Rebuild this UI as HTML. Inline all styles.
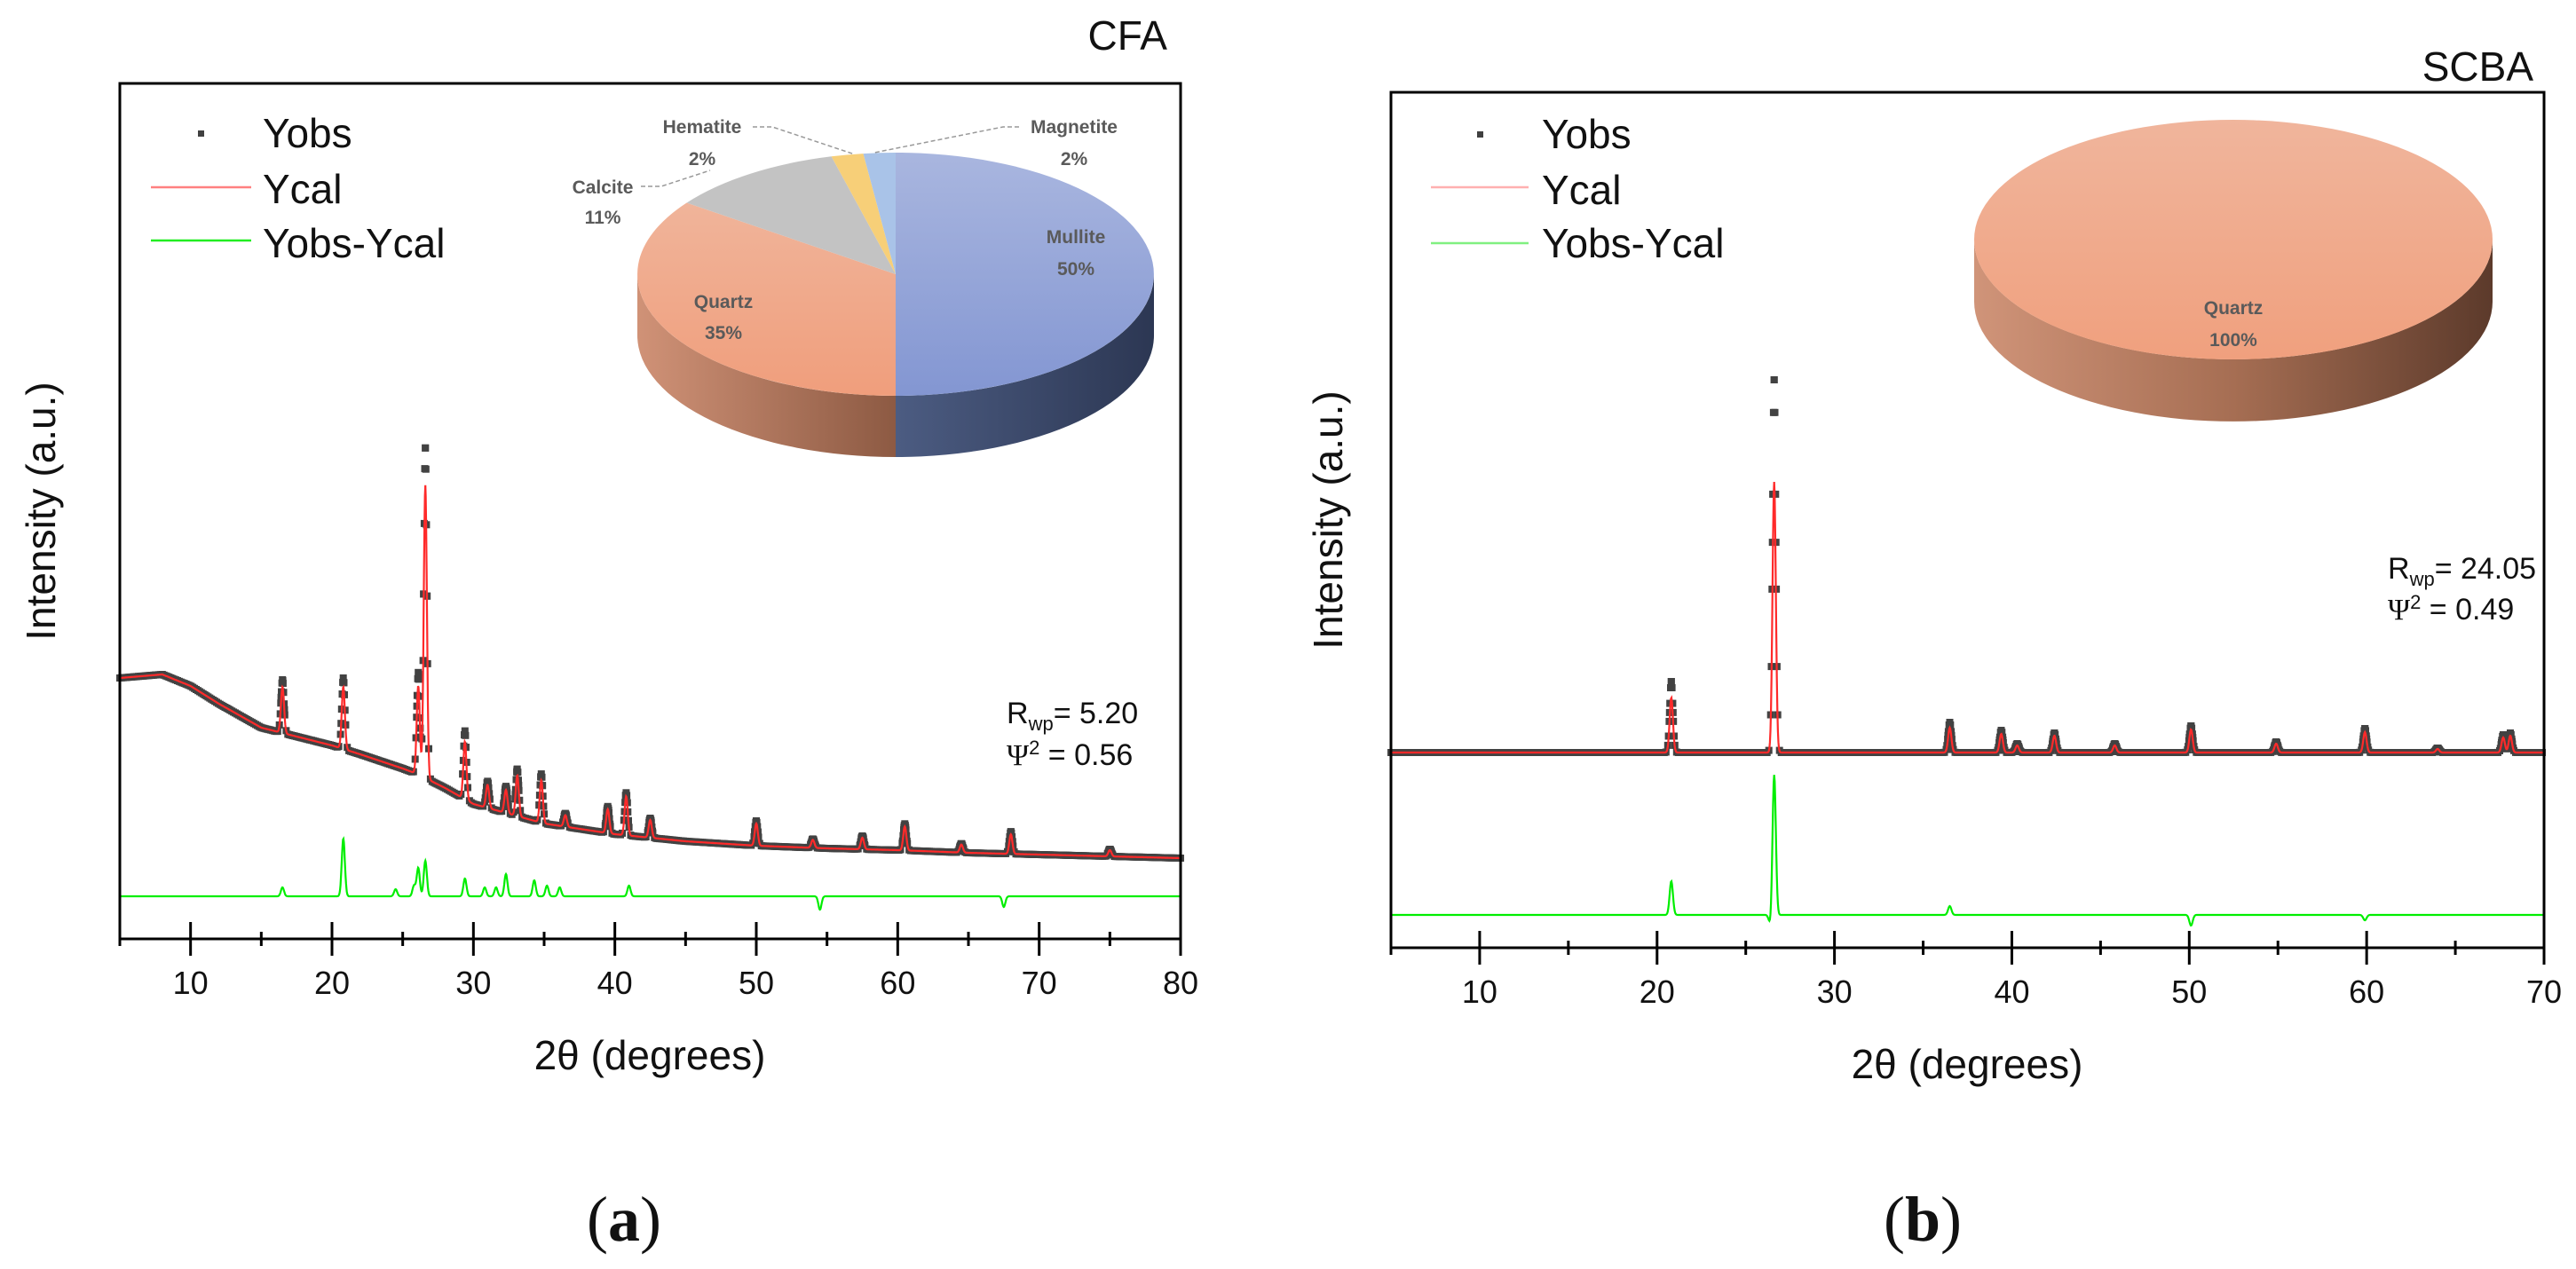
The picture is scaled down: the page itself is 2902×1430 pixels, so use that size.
<!DOCTYPE html>
<html><head><meta charset="utf-8">
<style>
html,body{margin:0;padding:0;background:#fff;}
svg{display:block;font-family:"Liberation Sans",Arial,sans-serif;}
</style></head>
<body>
<svg id="fig" width="2902" height="1430" viewBox="0 0 2902 1430" xmlns="http://www.w3.org/2000/svg">
<defs>
  <linearGradient id="gMulSide" x1="0" x2="1" y1="0" y2="0"><stop offset="0" stop-color="#4c5c82"/><stop offset="1" stop-color="#2c3753"/></linearGradient>
  <linearGradient id="gQtzSide" x1="0" x2="1" y1="0" y2="0"><stop offset="0" stop-color="#d09277"/><stop offset="1" stop-color="#8d5a43"/></linearGradient>
  <linearGradient id="gMulTop" x1="0" x2="0" y1="0" y2="1"><stop offset="0" stop-color="#a9b6df"/><stop offset="1" stop-color="#8396d2"/></linearGradient>
  <linearGradient id="gQtzTop" x1="0" x2="0" y1="0" y2="1"><stop offset="0" stop-color="#f0b49a"/><stop offset="1" stop-color="#f09e7c"/></linearGradient>
  <linearGradient id="gScbaSide" x1="0" x2="1" y1="0" y2="0"><stop offset="0" stop-color="#d09479"/><stop offset="0.5" stop-color="#a66e53"/><stop offset="1" stop-color="#5c3a2b"/></linearGradient>
  <linearGradient id="gScbaTop" x1="0" x2="0" y1="0" y2="1"><stop offset="0" stop-color="#f0b59c"/><stop offset="1" stop-color="#f0a07e"/></linearGradient>
</defs>
<g id="layer"></g>
</svg>
<script>
// ---------- CFA data ----------
const cfaBgX=[5,8,10,12,15,18,20,22,25,26,28,30,35,40,45,50,55,60,65,70,75,80];
const cfaBgV=[294,298,285,265,238,226,218,208,192,186,170,152,130,118,110,105,102,100,97,95,93,91];
const cfaPeakPos=[16.5,20.8,26.1,26.6,29.4,31.0,32.3,33.1,34.8,36.5,39.5,40.8,42.5,50.0,54.0,57.5,60.5,64.5,68.0,75.0];
const cfaPeakObs=[60,80,115,372,77,30,30,53,55,15,30,48,22,28,10,15,30,10,25,8];
const cfaPeakCal=[52,70,100,330,65,26,26,46,48,13,27,44,20,25,9,13,27,9,22,7];
const cfaResBase=48;
const cfaResPos=[16.5,20.8,24.5,25.8,26.1,26.6,29.4,30.8,31.6,32.3,34.3,35.2,36.1,41.0,54.5,67.5];
const cfaResV=[10,65,8,12,32,40,20,10,10,25,18,12,10,12,-15,-12];
const cfaXTicks=[10,20,30,40,50,60,70,80];
// ---------- SCBA data ----------
const scbaBgX=[5,70];
const scbaBgV=[220,220];
const scbaPeakPos=[20.8,26.6,36.5,39.4,40.3,42.4,45.8,50.1,54.9,59.9,64.0,67.7,68.1];
const scbaPeakObs=[80,420,34,25,10,22,10,30,12,27,5,20,22];
const scbaPeakCal=[62,305,28,21,8,19,8,26,10,23,4,17,19];
const scbaResBase=37;
const scbaResPos=[20.8,26.4,26.6,36.5,50.1,59.9];
const scbaResV=[38,-12,159,10,-12,-6];
const scbaXTicks=[10,20,30,40,50,60,70];
// ---------- Pie data ----------
const cfaPieLabels=["Mullite","Quartz","Calcite","Hematite","Magnetite"];
const cfaPieValues=[50,35,11,2,2];
const scbaPieLabels=["Quartz"];
const scbaPieValues=[100];

const NS="http://www.w3.org/2000/svg";
const layer=document.getElementById('layer');
function mk(tag,attrs,parent){const e=document.createElementNS(NS,tag);for(const k in attrs)e.setAttribute(k,attrs[k]);(parent||layer).appendChild(e);return e;}
function txt(s,attrs,parent){const e=mk('text',attrs,parent);e.textContent=s;return e;}

function interp(xs,vs,x){if(x<=xs[0])return vs[0];for(let i=1;i<xs.length;i++){if(x<=xs[i]){const t=(x-xs[i-1])/(xs[i]-xs[i-1]);return vs[i-1]+t*(vs[i]-vs[i-1]);}}return vs[vs.length-1];}
function peakSum(pos,h,x,w){let s=0;for(let i=0;i<pos.length;i++){const d=(x-pos[i])/w;s+=h[i]*Math.exp(-d*d*0.693);}return s;}

function panel(cfg){
  const g=mk('g',{});
  
  
  const xS=v=>cfg.L+(v-cfg.xmin)/(cfg.xmax-cfg.xmin)*(cfg.R-cfg.L);
  const yS=v=>cfg.B-v;
  const xs=[];for(let x=cfg.xmin;x<=cfg.xmax+1e-9;x+=0.03)xs.push(x);
  const prof=(x,h)=>interp(cfg.bgX,cfg.bgV,x)+peakSum(cfg.pos,h,x,cfg.w);
  const dg=mk('g',{fill:'#424242'},g);
  
  
  const dx=[];for(let x=cfg.xmin;x<=cfg.xmax;x+=cfg.dotStep)dx.push(x);
  cfg.pos.forEach(p=>{for(let k=-4;k<=4;k++)dx.push(p+k*0.04);});
  dx.forEach(x=>{if(x<cfg.xmin||x>cfg.xmax)return;const y=yS(prof(x,cfg.obs));
    const r=mk('rect',{x:(xS(x)-4).toFixed(1),y:(y-4).toFixed(1),width:8,height:8},dg);
    
    });
  let d='';xs.forEach((x,i)=>{d+=(i?'L':'M')+xS(x).toFixed(1)+','+yS(prof(x,cfg.cal)).toFixed(1);});
  const cl=mk('path',{d:d,fill:'none',stroke:'#ff2a2a','stroke-width':2.2},g);
  
  
  d='';xs.forEach((x,i)=>{d+=(i?'L':'M')+xS(x).toFixed(1)+','+yS(cfg.resBase+peakSum(cfg.resPos,cfg.resV,x,cfg.w)).toFixed(1);});
  const rl=mk('path',{d:d,fill:'none',stroke:'#00ee00','stroke-width':2.2},g);
  
  
  const fr=mk('rect',{x:cfg.L,y:cfg.T,width:cfg.R-cfg.L,height:cfg.B-cfg.T,fill:'none',stroke:'#000','stroke-width':3},g);
  
  
  for(let v=cfg.xmin;v<=cfg.xmax;v+=5){const major=v%10===0;const t=mk('line',{x1:xS(v),x2:xS(v),y1:cfg.B-(major?19:8),y2:cfg.B+(major?19:8),stroke:'#000','stroke-width':3},g);
    
    }
  cfg.ticks.forEach(v=>{const t=txt(String(v),{x:xS(v),y:cfg.B+62,'font-size':36,'text-anchor':'middle',fill:'#111'},g);
    
    });
  return g;
}

panel({name:'cfa',L:135,R:1330,T:94,B:1058,xmin:5,xmax:80,bgX:cfaBgX,bgV:cfaBgV,pos:cfaPeakPos,obs:cfaPeakObs,cal:cfaPeakCal,resBase:cfaResBase,resPos:cfaResPos,resV:cfaResV,w:0.13,dotStep:0.12,ticks:cfaXTicks});
panel({name:'scba',L:1567,R:2866,T:104,B:1068,xmin:5,xmax:70,bgX:scbaBgX,bgV:scbaBgV,pos:scbaPeakPos,obs:scbaPeakObs,cal:scbaPeakCal,resBase:scbaResBase,resPos:scbaResPos,resV:scbaResV,w:0.11,dotStep:0.1,ticks:scbaXTicks});

function pie3d(name,cx,cy,rx,ry,depth,values,labels,topFills,sideFills){
  const g=mk('g',{});
  
  
  const tot=values.reduce((a,b)=>a+b,0);
  let a=-Math.PI/2;const segs=[];
  values.forEach((v,i)=>{const a2=a+v/tot*2*Math.PI;segs.push([a,a2]);a=a2;});
  const P=(t,dy)=>[(cx+rx*Math.cos(t)).toFixed(1),(cy+ry*Math.sin(t)+(dy||0)).toFixed(1)];
  segs.forEach((s,i)=>{
    for(const off of [0,2*Math.PI]){
      const s1=Math.max(s[0]-off,0),s2=Math.min(s[1]-off,Math.PI);
      if(s2<=s1)continue;
      const p1=P(s1),p2=P(s2),p3=P(s2,depth),p4=P(s1,depth);
      const d=`M${p1} A${rx},${ry} 0 0 1 ${p2} L${p3} A${rx},${ry} 0 0 0 ${p4} Z`;
      const e=mk('path',{d:d,fill:sideFills[i]},g);
      
      
    }
  });
  segs.forEach((s,i)=>{
    let e;
    if(values.length===1){e=mk('ellipse',{cx:cx,cy:cy,rx:rx,ry:ry,fill:topFills[i]},g);}
    else{const p1=P(s[0]),p2=P(s[1]);const large=(s[1]-s[0])>Math.PI?1:0;
      e=mk('path',{d:`M${cx},${cy} L${p1} A${rx},${ry} 0 ${large} 1 ${p2} Z`,fill:topFills[i]},g);}
    
    
  });
  return g;
}
pie3d('cfa-phase-pie',1009,309,291,137,69,cfaPieValues,cfaPieLabels,
  ['url(#gMulTop)','url(#gQtzTop)','#c3c3c3','#f7cf78','#a9c3e8'],
  ['url(#gMulSide)','url(#gQtzSide)','#909090','#c9a050','#7d95b8']);
pie3d('scba-phase-pie',2516,270,292,135,70,scbaPieValues,scbaPieLabels,['url(#gScbaTop)'],['url(#gScbaSide)']);
</script>

<svg style="position:absolute;left:0;top:0" width="2902" height="1430" viewBox="0 0 2902 1430" xmlns="http://www.w3.org/2000/svg">
 <g font-family="Liberation Sans, Arial, sans-serif">
  <g font-weight="bold" font-size="21" fill="#5a5a5a" text-anchor="middle">
    <text x="1212" y="274">Mullite</text>
    <text x="1212" y="310">50%</text>
    <text x="815" y="347">Quartz</text>
    <text x="815" y="382">35%</text>
    <text x="679" y="218">Calcite</text>
    <text x="679" y="252">11%</text>
    <text x="791" y="150">Hematite</text>
    <text x="791" y="186">2%</text>
    <text x="1210" y="150">Magnetite</text>
    <text x="1210" y="186">2%</text>
    <text x="2516" y="354">Quartz</text>
    <text x="2516" y="390">100%</text>
  </g>
  <g stroke="#999" stroke-width="1.5" stroke-dasharray="5,3" fill="none">
    <path d="M722,210 L745,210 L800,192"/>
    <path d="M848,143 L870,143 L963,174"/>
    <path d="M1148,143 L1130,143 L985,172"/>
  </g>
  <text x="1315" y="56" font-size="46" text-anchor="end" fill="#111">CFA</text>
  <text x="2854" y="91" font-size="46" text-anchor="end" fill="#111">SCBA</text>
  <g font-size="46" fill="#111">
    <rect x="223" y="147" width="7" height="7" fill="#404040"/>
    <text x="296" y="166">Yobs</text>
    <line x1="170" y1="211" x2="283" y2="211" stroke="#ff8080" stroke-width="2.5"/>
    <text x="296" y="229">Ycal</text>
    <line x1="170" y1="271" x2="283" y2="271" stroke="#22ee22" stroke-width="2.5"/>
    <text x="296" y="290">Yobs-Ycal</text>

    <rect x="1664" y="148" width="7" height="7" fill="#404040"/>
    <text x="1737" y="167">Yobs</text>
    <line x1="1612" y1="211" x2="1722" y2="211" stroke="#ffb0b0" stroke-width="2.5"/>
    <text x="1737" y="230">Ycal</text>
    <line x1="1612" y1="274" x2="1722" y2="274" stroke="#80f080" stroke-width="2.5"/>
    <text x="1737" y="290">Yobs-Ycal</text>
  </g>
  <g font-size="34" fill="#111">
    <text x="1134" y="815">R<tspan font-size="22" dy="8">wp</tspan><tspan dy="-8">= 5.20</tspan></text>
    <text x="1134" y="862"><tspan font-family="Liberation Serif, serif">Ψ</tspan><tspan font-size="22" dy="-12">2</tspan><tspan dy="12"> = 0.56</tspan></text>
    <text x="2690" y="652">R<tspan font-size="22" dy="8">wp</tspan><tspan dy="-8">= 24.05</tspan></text>
    <text x="2690" y="698"><tspan font-family="Liberation Serif, serif">Ψ</tspan><tspan font-size="22" dy="-12">2</tspan><tspan dy="12"> = 0.49</tspan></text>
  </g>
  <g font-size="46" fill="#111" text-anchor="middle">
    <text transform="translate(62,576) rotate(-90)">Intensity (a.u.)</text>
    <text transform="translate(1512,586) rotate(-90)">Intensity (a.u.)</text>
    <text x="732" y="1205">2θ (degrees)</text>
    <text x="2216" y="1215">2θ (degrees)</text>
  </g>
  <g font-family="Liberation Serif, serif" font-size="72" fill="#111" text-anchor="middle">
    <text x="703" y="1398">(<tspan font-weight="bold">a</tspan>)</text>
    <text x="2166" y="1398">(<tspan font-weight="bold">b</tspan>)</text>
  </g>
 </g>
</svg>
</body></html>
